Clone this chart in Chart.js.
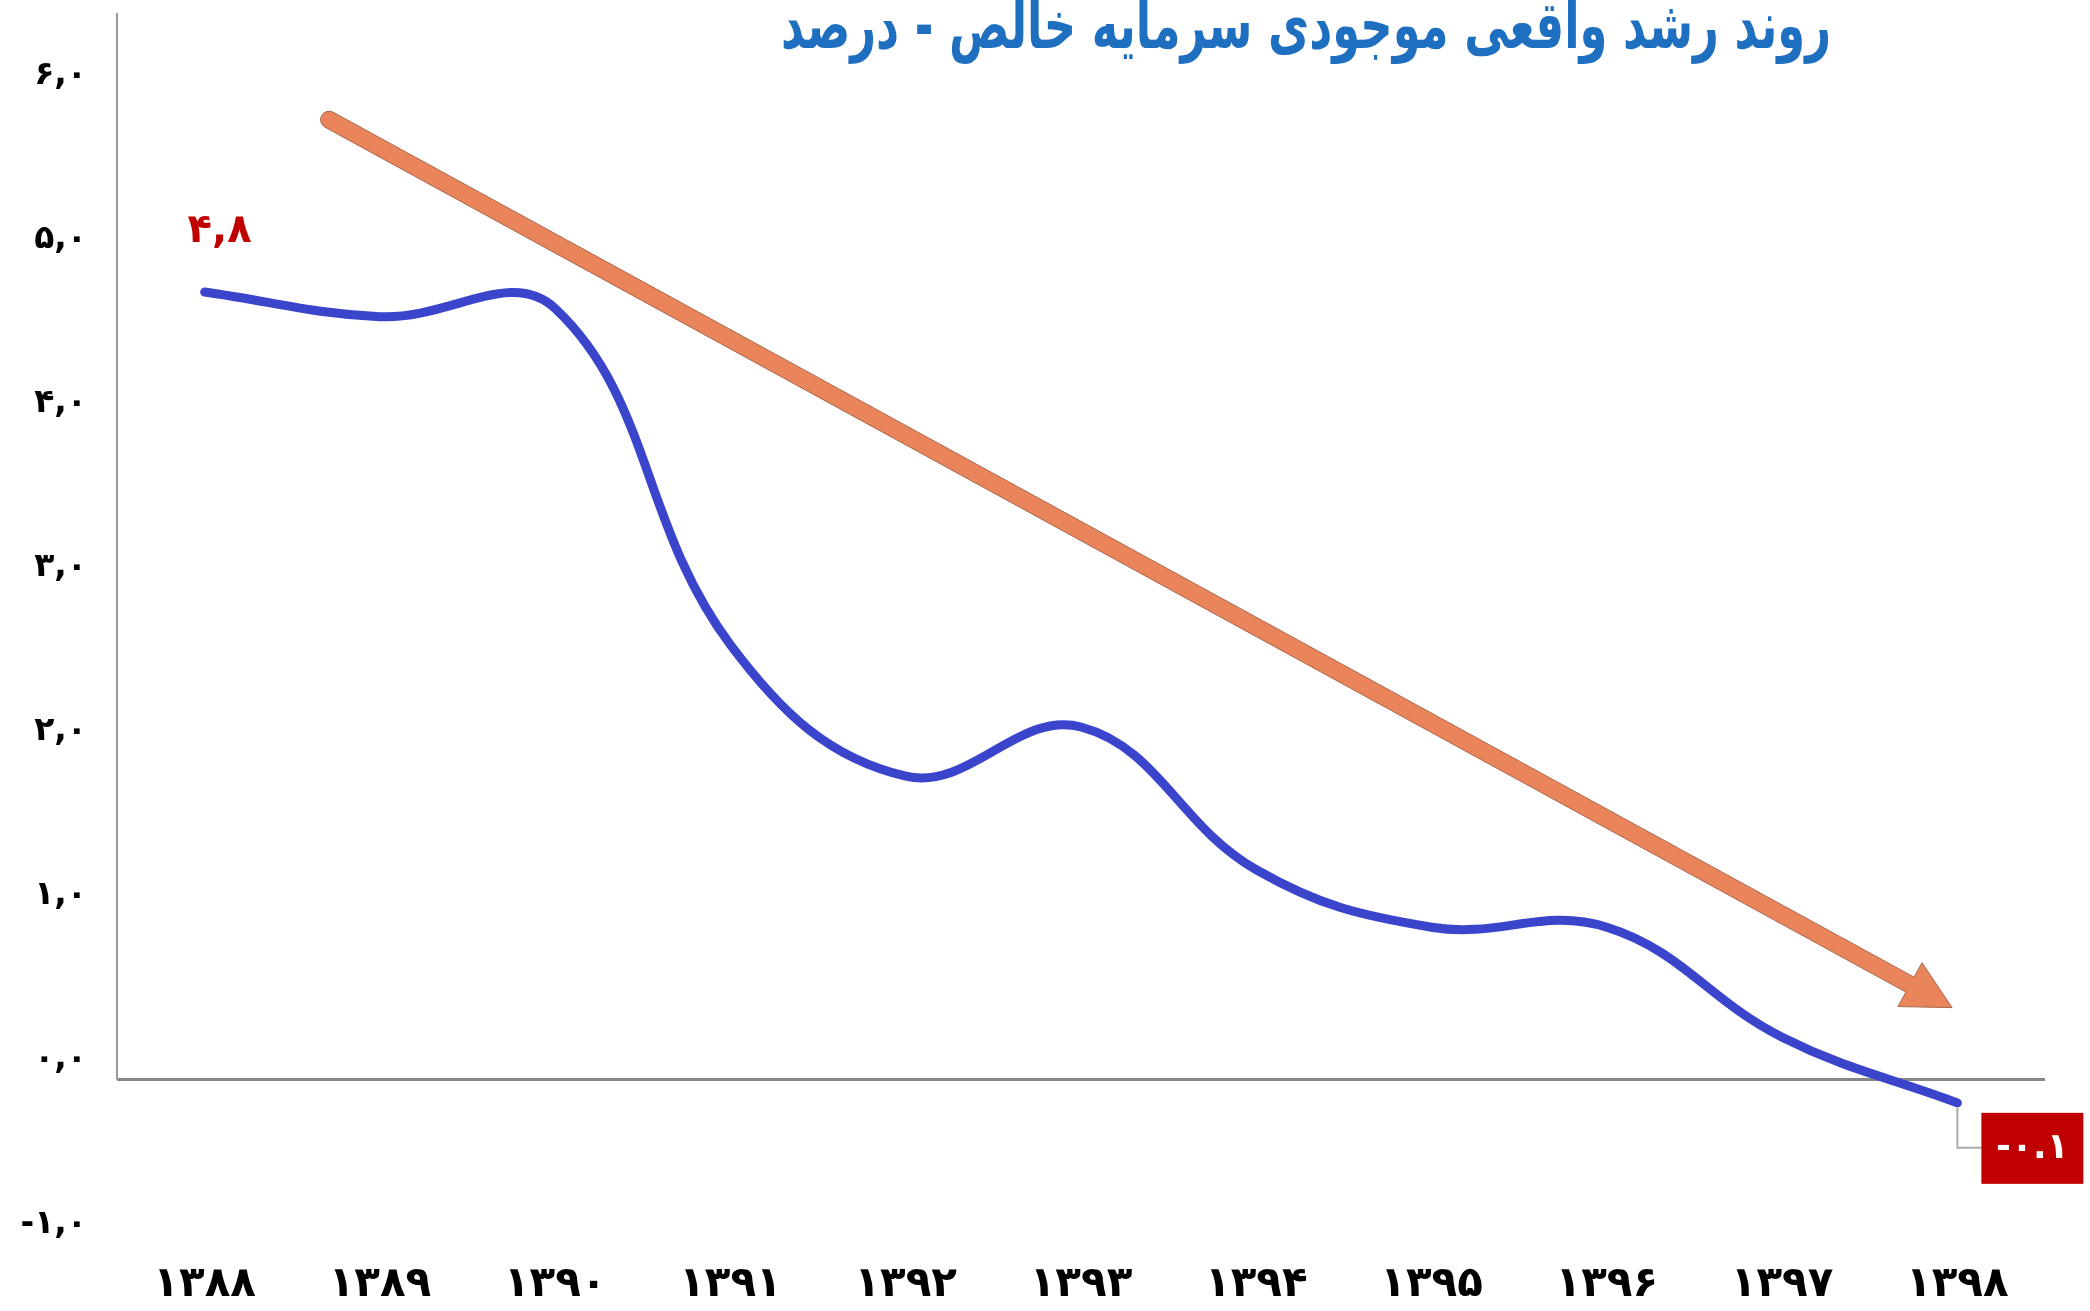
<!DOCTYPE html>
<html>
<head>
<meta charset="utf-8">
<script src="https://cdn.jsdelivr.net/npm/chart.js@4.4.1/dist/chart.umd.min.js"></script>
<style>
body{margin:0;background:#fff;}
#wrap{width:2090px;height:1311px;}
</style>
</head>
<body>
<div id="wrap"><canvas id="growthChart"></canvas></div>
<script>
const years = ['۱۳۸۸','۱۳۸۹','۱۳۹۰','۱۳۹۱','۱۳۹۲','۱۳۹۳','۱۳۹۴','۱۳۹۵','۱۳۹۶','۱۳۹۷','۱۳۹۸'];
const growth = [4.8, 4.65, 4.7, 2.65, 1.85, 2.15, 1.28, 0.93, 0.93, 0.26, -0.14];
const yTickValues = [-1, 0, 1, 2, 3, 4, 5, 6];
const yTickLabels = ['-۱,۰','۰,۰','۱,۰','۲,۰','۳,۰','۴,۰','۵,۰','۶,۰'];
// trend arrow ends: [category index, value]
const trendArrow = [[0.71, 5.85], [9.97, 0.44]];
const titleText = 'روند رشد واقعی موجودی سرمایه خالص - درصد';
const firstLabel = '۴,۸';
const lastLabel = '-۰.۱';

const fontFamily = '"DejaVu Sans", sans-serif';

const decorations = {
  id: 'decorations',
  beforeDatasetsDraw(chart) {
    const ctx = chart.ctx;
    const x = chart.scales.x, y = chart.scales.y;
    const area = chart.chartArea;

    // vertical axis line, top down to zero
    ctx.save();
    ctx.strokeStyle = '#999';
    ctx.lineWidth = 2;
    ctx.beginPath();
    ctx.moveTo(area.left, area.top);
    ctx.lineTo(area.left, y.getPixelForValue(0));
    ctx.stroke();

    // trend arrow
    const sx = x.getPixelForValue(trendArrow[0][0]), sy = y.getPixelForValue(trendArrow[0][1]);
    const tx = x.getPixelForValue(trendArrow[1][0]), ty = y.getPixelForValue(trendArrow[1][1]);
    const len = Math.hypot(tx - sx, ty - sy);
    const ux = (tx - sx) / len, uy = (ty - sy) / len;
    const nx = -uy, ny = ux;
    const w = 8.5, hw = 25, hl = 48;
    const bx = tx - ux * hl, by = ty - uy * hl;
    const a = Math.atan2(uy, ux);
    ctx.beginPath();
    ctx.moveTo(sx + nx * w, sy + ny * w);
    ctx.lineTo(bx + nx * w, by + ny * w);
    ctx.lineTo(bx + nx * hw, by + ny * hw);
    ctx.lineTo(tx, ty);
    ctx.lineTo(bx - nx * hw, by - ny * hw);
    ctx.lineTo(bx - nx * w, by - ny * w);
    ctx.lineTo(sx - nx * w, sy - ny * w);
    ctx.arc(sx, sy, w, a - Math.PI / 2, a + Math.PI / 2, true);
    ctx.closePath();
    ctx.fillStyle = '#E9845B';
    ctx.fill();
    ctx.strokeStyle = '#A8664A';
    ctx.lineWidth = 1;
    ctx.stroke();
    ctx.restore();
  },
  afterDraw(chart) {
    const ctx = chart.ctx;
    const pts = chart.getDatasetMeta(0).data;
    const first = pts[0], last = pts[pts.length - 1];

    ctx.save();
    // title, squeezed to the width of the original
    ctx.direction = 'rtl';
    ctx.textAlign = 'center';
    ctx.textBaseline = 'alphabetic';
    ctx.font = 'bold 66px ' + fontFamily;
    const sxTitle = 1050 / ctx.measureText(titleText).width;
    ctx.translate(1306, 48);
    ctx.scale(sxTitle, 1);
    ctx.fillStyle = '#1E6FC0';
    ctx.fillText(titleText, 0, 0);
    ctx.restore();

    ctx.save();
    // first value label
    ctx.direction = 'ltr';
    ctx.textAlign = 'center';
    ctx.font = 'bold 40px ' + fontFamily;
    ctx.fillStyle = '#C00000';
    ctx.textBaseline = 'middle';
    ctx.fillText(firstLabel, first.x + 15, first.y - 60);

    // last value leader + box
    ctx.strokeStyle = '#aaa';
    ctx.lineWidth = 2;
    ctx.beginPath();
    ctx.moveTo(last.x, last.y + 5);
    ctx.lineTo(last.x, last.y + 45);
    ctx.lineTo(last.x + 24, last.y + 45);
    ctx.stroke();
    ctx.fillStyle = '#C00000';
    ctx.fillRect(last.x + 24, last.y + 10, 102, 71);
    ctx.fillStyle = '#fff';
    ctx.font = 'bold 36px ' + fontFamily;
    ctx.fillText(lastLabel, last.x + 75, last.y + 46);
    ctx.restore();
  }
};

new Chart(document.getElementById('growthChart'), {
  type: 'line',
  data: {
    labels: years,
    datasets: [{
      data: growth,
      borderColor: '#3B45CC',
      borderWidth: 9,
      borderCapStyle: 'round',
      pointRadius: 0,
      tension: 0.4,
      fill: false
    }]
  },
  options: {
    responsive: true,
    maintainAspectRatio: false,
    animation: false,
    layout: { padding: { top: 13, right: 45, left: 0, bottom: 0 } },
    plugins: { legend: { display: false }, tooltip: { enabled: false } },
    scales: {
      x: {
        offset: true,
        grid: { display: false, drawTicks: false },
        border: { display: false },
        ticks: {
          color: '#000',
          font: { family: fontFamily, size: 42, weight: 'bold' },
          padding: 16,
          maxRotation: 0,
          autoSkip: false
        },
        afterFit(scale) { scale.height = 67; scale.paddingLeft = 0; scale.paddingRight = 0; }
      },
      y: {
        min: -1,
        max: 6.5,
        border: { display: false },
        grid: {
          drawTicks: false,
          lineWidth: 3,
          color: c => c.tick && c.tick.value === 0 ? '#888' : 'rgba(0,0,0,0)'
        },
        ticks: {
          stepSize: 1,
          includeBounds: false,
          padding: 30,
          labelOffset: -20,
          color: '#000',
          font: { family: fontFamily, size: 33, weight: 'bold' },
          callback: v => yTickLabels[yTickValues.indexOf(v)]
        },
        afterFit(scale) { scale.width = 117; scale.paddingTop = 0; scale.paddingBottom = 0; }
      }
    }
  },
  plugins: [decorations]
});
</script>
</body>
</html>
